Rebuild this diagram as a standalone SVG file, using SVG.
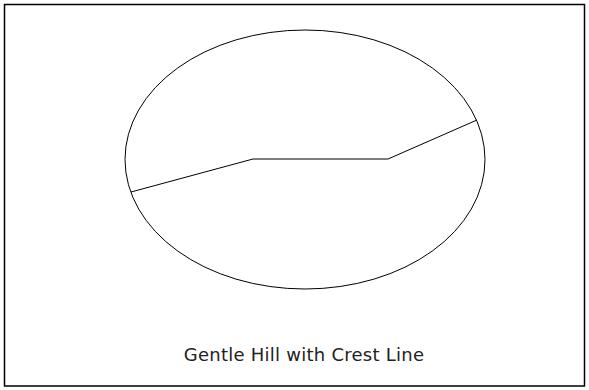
<svg xmlns="http://www.w3.org/2000/svg" width="589" height="390" viewBox="0 0 589 390">
<style>
.frame{fill:#fff;stroke:#000;stroke-width:1.5}
.hill{fill:none;stroke:#000;stroke-width:1}
.crest{fill:none;stroke:#000;stroke-width:1}
.label{font-family:"DejaVu Sans",Verdana,sans-serif;font-size:18px;letter-spacing:0.25px;fill:#222;text-anchor:middle}
</style>
<rect width="589" height="390" fill="#fff"/>
<rect class="frame" x="4.5" y="4.5" width="580" height="381.5"/>
<g id="hill"><ellipse class="hill" cx="305" cy="159.5" rx="180" ry="129.5"/></g>
<g id="connectors"><polyline class="crest" points="131,192 253,159 388,159 477,120"/></g>
<g id="label"><text class="label" x="304" y="360.5">Gentle Hill with Crest Line</text></g>
</svg>
